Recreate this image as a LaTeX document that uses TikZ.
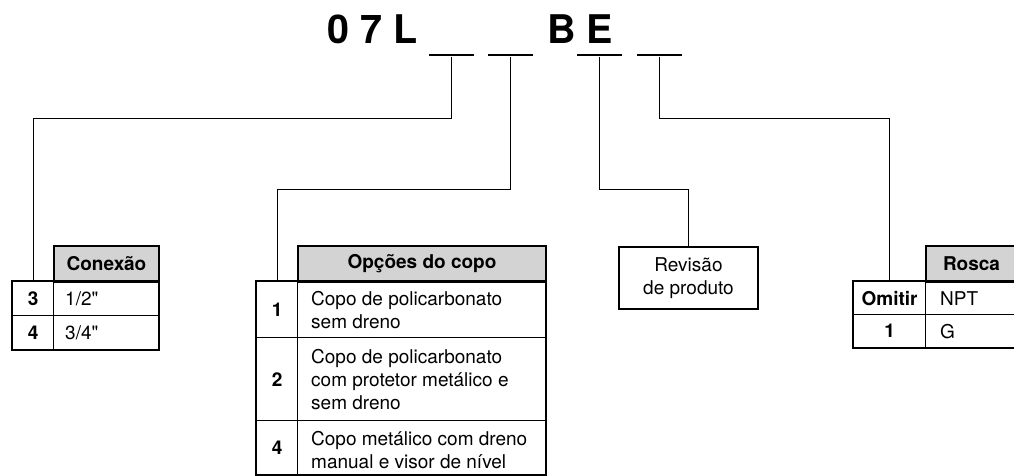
\documentclass[tikz,border=0pt]{standalone}
\usepackage{fontspec}
\setmainfont{TeX Gyre Heros}
\definecolor{hdrgray}{RGB}{211,211,211}
\begin{document}
\begin{tikzpicture}[x=1pt,y=-1pt,
  cell/.style={draw, line width=1.3pt, inner sep=0pt, anchor=north west},
  hdr/.style={cell, fill=hdrgray, line width=2pt, font=\bfseries\fontsize{19}{23}\selectfont},
  num/.style={cell, font=\bfseries\fontsize{19}{23}\selectfont},
  val/.style={cell},
  txt/.style={anchor=west, inner sep=0pt, align=left, font=\fontsize{19}{23}\selectfont},
  frame/.style={draw, line width=2pt},
  wh/.style 2 args={minimum width=#1pt, minimum height=#2pt},
  dashseg/.style={fill=black, inner sep=0pt, minimum width=45pt, minimum height=2.6pt},
  conn/.style={line width=1pt},
  title/.style={anchor=base west, inner sep=0pt, font=\bfseries\fontsize{39.5}{40}\selectfont}
]
\useasboundingbox (0,0) rectangle (1014,475);

% title
\node[title] (t1) at (327,43) {0 7 L};
\node[title] (t2) at (547,43) {B E};
\node[dashseg] (d1) at (451.5,55) {};
\node[dashseg] (d2) at (510.5,55) {};
\node[dashseg] (d3) at (599.5,55) {};
\node[dashseg] (d4) at (659,55) {};

% Conexao table
\node[hdr, wh={105}{36}] (cxh) at (53,245) {Conexão};
\node[num, wh={41}{34}] (cn1) at (12,281) {3};
\node[val, wh={105}{34}] (cv1) at (53,281) {};
\node[num, wh={41}{34}] (cn2) at (12,315) {4};
\node[val, wh={105}{34}] (cv2) at (53,315) {};
\node[txt] (cv1t) at ([xshift=12pt]cv1.west) {1/2\textquotedbl};
\node[txt] (cv2t) at ([xshift=12pt]cv2.west) {3/4\textquotedbl};
\draw[frame] (cn1.north west) rectangle (cv2.south east);

% Opcoes table
\node[hdr, wh={248}{36}] (oh) at (297,245) {Opções do copo};
\node[num, wh={41}{56}] (on1) at (256,281) {1};
\node[val, wh={248}{56}] (ov1) at (297,281) {};
\node[num, wh={41}{83}] (on2) at (256,337) {2};
\node[val, wh={248}{83}] (ov2) at (297,337) {};
\node[num, wh={41}{54}] (on3) at (256,420) {4};
\node[val, wh={248}{54}] (ov3) at (297,420) {};
\node[txt] (ov1t) at ([xshift=14pt]ov1.west) {Copo de policarbonato\\sem dreno};
\node[txt] (ov2t) at ([xshift=14pt]ov2.west) {Copo de policarbonato\\com protetor metálico e\\sem dreno};
\node[txt] (ov3t) at ([xshift=14pt,yshift=-2pt]ov3.west) {Copo metálico com dreno\\manual e visor de nível};
\draw[frame] (on1.north west) rectangle (ov3.south east);

% Revisao box
\node[cell, line width=2pt, wh={139}{62}, align=center, font=\fontsize{19}{23}\selectfont] (rev) at (618,246) {Revisão\\de produto};

% Rosca table
\node[hdr, wh={91}{36}] (rh) at (925,245) {Rosca};
\node[num, wh={72}{33}] (rn1) at (853,281) {Omitir};
\node[val, wh={91}{33}] (rv1) at (925,281) {};
\node[num, wh={72}{33}] (rn2) at (853,314) {1};
\node[val, wh={91}{33}] (rv2) at (925,314) {};
\node[txt] (rv1t) at ([xshift=15pt]rv1.west) {NPT};
\node[txt] (rv2t) at ([xshift=15pt]rv2.west) {G};
\draw[frame] (rn1.north west) rectangle (rv2.south east);

% connectors
\coordinate (k1) at (0,118);
\coordinate (k2) at (0,189);
\draw[conn] (d1.south) |- (cn1.north |- k1) -- (cn1.north);
\draw[conn] (d2.south) |- (on1.north |- k2) -- (on1.north);
\draw[conn] (d3.south) |- (rev.north |- k2) -- (rev.north);
\draw[conn] (d4.south) |- (rn1.north |- k1) -- (rn1.north);
\end{tikzpicture}
\end{document}
